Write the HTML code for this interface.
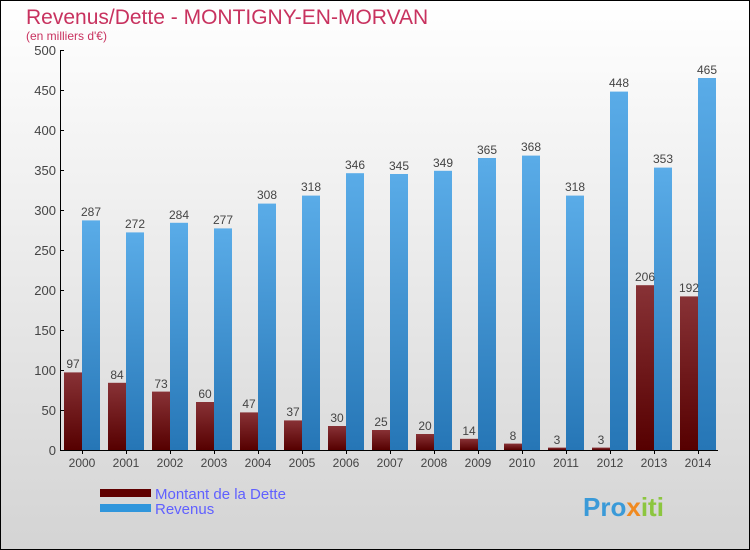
<!DOCTYPE html><html><head><style>body{margin:0}svg{display:block}text{font-family:"Liberation Sans",sans-serif}</style></head><body>
<svg width="750" height="550" xmlns="http://www.w3.org/2000/svg">
<defs>
<linearGradient id="bg" x1="0" y1="0" x2="0" y2="1"><stop offset="0" stop-color="#ffffff"/><stop offset="1" stop-color="#d4d4d4"/></linearGradient>
<linearGradient id="gd" x1="0" y1="0" x2="0" y2="1"><stop offset="0" stop-color="#883236"/><stop offset="1" stop-color="#560000"/></linearGradient>
<linearGradient id="gr" x1="0" y1="0" x2="0" y2="1"><stop offset="0" stop-color="#5aace8"/><stop offset="1" stop-color="#2676b6"/></linearGradient>
</defs>
<rect x="0.5" y="0.5" width="749" height="549" fill="url(#bg)" stroke="#000"/>
<text x="26" y="24" font-size="21" fill="#c8325f">Revenus/Dette - MONTIGNY-EN-MORVAN</text>
<text x="26" y="40" font-size="12" fill="#c8325f">(en milliers d'€)</text>
<g fill="url(#gd)">
<rect x="64" y="372.4" width="18" height="77.6"/>
<rect x="108" y="382.8" width="18" height="67.2"/>
<rect x="152" y="391.6" width="18" height="58.4"/>
<rect x="196" y="402" width="18" height="48"/>
<rect x="240" y="412.4" width="18" height="37.6"/>
<rect x="284" y="420.4" width="18" height="29.6"/>
<rect x="328" y="426" width="18" height="24"/>
<rect x="372" y="430" width="18" height="20"/>
<rect x="416" y="434" width="18" height="16"/>
<rect x="460" y="438.8" width="18" height="11.2"/>
<rect x="504" y="443.6" width="18" height="6.4"/>
<rect x="548" y="447.6" width="18" height="2.4"/>
<rect x="592" y="447.6" width="18" height="2.4"/>
<rect x="636" y="285.2" width="18" height="164.8"/>
<rect x="680" y="296.4" width="18" height="153.6"/>
</g>
<g fill="url(#gr)">
<rect x="82" y="220.4" width="18" height="229.6"/>
<rect x="126" y="232.4" width="18" height="217.6"/>
<rect x="170" y="222.8" width="18" height="227.2"/>
<rect x="214" y="228.4" width="18" height="221.6"/>
<rect x="258" y="203.6" width="18" height="246.4"/>
<rect x="302" y="195.6" width="18" height="254.4"/>
<rect x="346" y="173.2" width="18" height="276.8"/>
<rect x="390" y="174" width="18" height="276"/>
<rect x="434" y="170.8" width="18" height="279.2"/>
<rect x="478" y="158" width="18" height="292"/>
<rect x="522" y="155.6" width="18" height="294.4"/>
<rect x="566" y="195.6" width="18" height="254.4"/>
<rect x="610" y="91.6" width="18" height="358.4"/>
<rect x="654" y="167.6" width="18" height="282.4"/>
<rect x="698" y="78" width="18" height="372"/>
</g>
<g font-size="12" fill="#444" text-anchor="middle">
<text x="73" y="368">97</text><text x="117" y="379">84</text><text x="161" y="388">73</text><text x="205" y="398">60</text><text x="249" y="408">47</text><text x="293" y="416">37</text><text x="337" y="422">30</text><text x="381" y="426">25</text><text x="425" y="430">20</text><text x="469" y="435">14</text><text x="513" y="440">8</text><text x="557" y="444">3</text><text x="601" y="444">3</text><text x="645" y="281">206</text><text x="689" y="292">192</text>
<text x="91" y="216">287</text><text x="135" y="228">272</text><text x="179" y="219">284</text><text x="223" y="224">277</text><text x="267" y="199">308</text><text x="311" y="191">318</text><text x="355" y="169">346</text><text x="399" y="170">345</text><text x="443" y="167">349</text><text x="487" y="154">365</text><text x="531" y="151">368</text><text x="575" y="191">318</text><text x="619" y="87">448</text><text x="663" y="163">353</text><text x="707" y="74">465</text>
<text x="82" y="467">2000</text><text x="126" y="467">2001</text><text x="170" y="467">2002</text><text x="214" y="467">2003</text><text x="258" y="467">2004</text><text x="302" y="467">2005</text><text x="346" y="467">2006</text><text x="390" y="467">2007</text><text x="434" y="467">2008</text><text x="478" y="467">2009</text><text x="522" y="467">2010</text><text x="566" y="467">2011</text><text x="610" y="467">2012</text><text x="654" y="467">2013</text><text x="698" y="467">2014</text>
</g>
<line x1="60.5" y1="50" x2="60.5" y2="450" stroke="#000"/>
<line x1="60" y1="450.5" x2="718" y2="450.5" stroke="#000"/>
<g font-size="13" fill="#444" text-anchor="end">
<text x="56" y="455">0</text><text x="56" y="415">50</text><text x="56" y="375">100</text><text x="56" y="335">150</text><text x="56" y="295">200</text><text x="56" y="255">250</text><text x="56" y="215">300</text><text x="56" y="175">350</text><text x="56" y="135">400</text><text x="56" y="95">450</text><text x="56" y="55">500</text>
</g>
<g stroke="#000"><line x1="60" y1="410.5" x2="64" y2="410.5"/><line x1="60" y1="370.5" x2="64" y2="370.5"/><line x1="60" y1="330.5" x2="64" y2="330.5"/><line x1="60" y1="290.5" x2="64" y2="290.5"/><line x1="60" y1="250.5" x2="64" y2="250.5"/><line x1="60" y1="210.5" x2="64" y2="210.5"/><line x1="60" y1="170.5" x2="64" y2="170.5"/><line x1="60" y1="130.5" x2="64" y2="130.5"/><line x1="60" y1="90.5" x2="64" y2="90.5"/><line x1="60" y1="50.5" x2="64" y2="50.5"/>
<line x1="82.5" y1="450" x2="82.5" y2="454"/><line x1="126.5" y1="450" x2="126.5" y2="454"/><line x1="170.5" y1="450" x2="170.5" y2="454"/><line x1="214.5" y1="450" x2="214.5" y2="454"/><line x1="258.5" y1="450" x2="258.5" y2="454"/><line x1="302.5" y1="450" x2="302.5" y2="454"/><line x1="346.5" y1="450" x2="346.5" y2="454"/><line x1="390.5" y1="450" x2="390.5" y2="454"/><line x1="434.5" y1="450" x2="434.5" y2="454"/><line x1="478.5" y1="450" x2="478.5" y2="454"/><line x1="522.5" y1="450" x2="522.5" y2="454"/><line x1="566.5" y1="450" x2="566.5" y2="454"/><line x1="610.5" y1="450" x2="610.5" y2="454"/><line x1="654.5" y1="450" x2="654.5" y2="454"/><line x1="698.5" y1="450" x2="698.5" y2="454"/></g>
<rect x="100" y="489" width="51" height="8" fill="#600000"/>
<rect x="100" y="504" width="51" height="8" fill="#3096dc"/>
<text x="155" y="499" font-size="15" fill="#6060ff">Montant de la Dette</text>
<text x="155" y="514" font-size="15" fill="#6060ff">Revenus</text>
<text x="583" y="516" font-size="26" font-weight="bold" fill="#3a9ad8">Pro<tspan fill="#f08a20">x</tspan><tspan fill="#8cc63f">iti</tspan></text>
</svg></body></html>
